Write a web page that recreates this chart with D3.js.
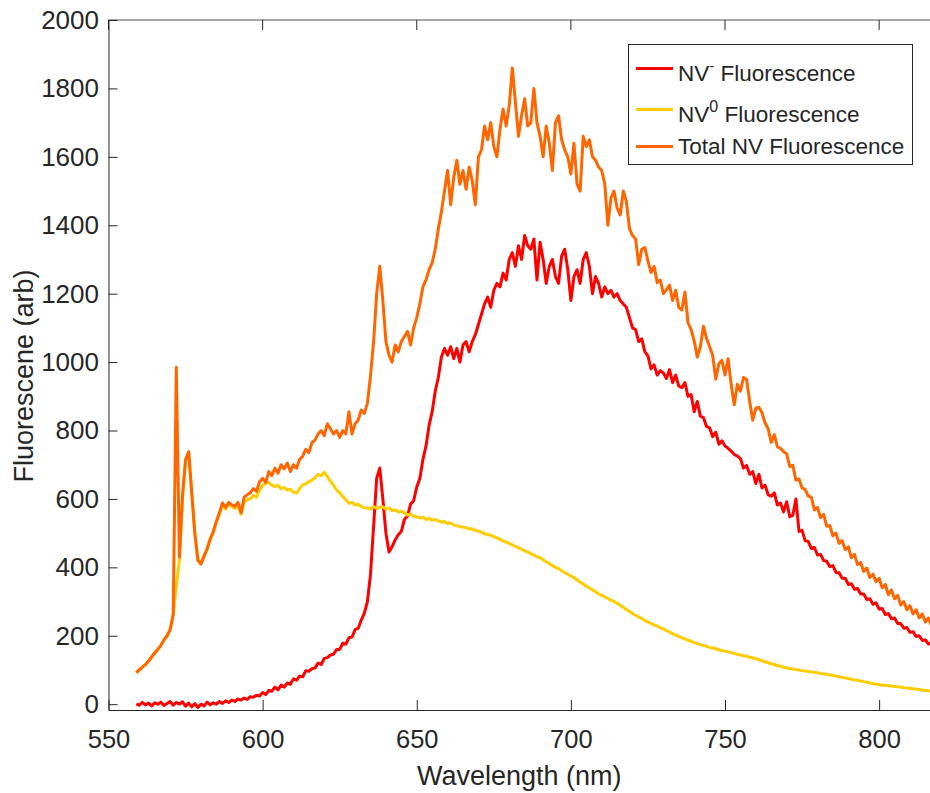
<!DOCTYPE html>
<html>
<head>
<meta charset="utf-8">
<script src="https://cdn.jsdelivr.net/npm/d3@7"></script>
<style>
  html, body { margin: 0; padding: 0; background: #fff; }
  svg text { font-family: "Liberation Sans", Arial, Helvetica, sans-serif; fill: #262626; }
</style>
</head>
<body>
<svg id="chart" width="930" height="793"></svg>
<script>
// ---- Data ----
const wavelength = [
559,560,561,562,563,564,565,566,567,568,
569,570,571,572,573,574,575,576,577,578,
579,580,581,582,583,584,585,586,587,588,
589,590,591,592,593,594,595,596,597,598,
599,600,601,602,603,604,605,606,607,608,
609,610,611,612,613,614,615,616,617,618,
619,620,621,622,623,624,625,626,627,628,
629,630,631,632,633,634,635,636,637,638,
639,640,641,642,643,644,645,646,647,648,
649,650,651,652,653,654,655,656,657,658,
659,660,661,662,663,664,665,666,667,668,
669,670,671,672,673,674,675,676,677,678,
679,680,681,682,683,684,685,686,687,688,
689,690,691,692,693,694,695,696,697,698,
699,700,701,702,703,704,705,706,707,708,
709,710,711,712,713,714,715,716,717,718,
719,720,721,722,723,724,725,726,727,728,
729,730,731,732,733,734,735,736,737,738,
739,740,741,742,743,744,745,746,747,748,
749,750,751,752,753,754,755,756,757,758,
759,760,761,762,763,764,765,766,767,768,
769,770,771,772,773,774,775,776,777,778,
779,780,781,782,783,784,785,786,787,788,
789,790,791,792,793,794,795,796,797,798,
799,800,801,802,803,804,805,806,807,808,
809,810,811,812,813,814,815,816,817
];

const nvMinus = [
0,-3,5,-2,3,-5,4,0,6,-4,
2,8,-3,5,0,7,-6,3,-8,2,
-10,0,-5,6,-2,4,0,8,2,10,
5,12,8,15,12,18,14,22,20,26,
24,34,28,40,38,50,42,56,50,62,
58,74,70,82,80,98,96,104,106,120,
116,134,136,144,146,160,160,178,176,194,
196,218,222,246,266,300,380,520,660,690,
600,500,445,460,480,495,505,540,550,585,
595,635,660,715,755,815,855,915,955,1015,
1040,1020,1045,1010,1040,1000,1050,1060,1030,1060,
1080,1110,1140,1170,1190,1160,1210,1230,1220,1260,
1240,1300,1320,1280,1340,1300,1370,1340,1330,1360,
1240,1350,1300,1230,1280,1300,1250,1230,1310,1330,
1270,1180,1250,1270,1230,1300,1320,1280,1200,1250,
1230,1190,1220,1200,1210,1190,1200,1180,1170,1160,
1130,1100,1095,1060,1068,1030,1018,980,992,962,
975,968,952,978,940,962,930,925,940,900,
905,855,885,842,838,812,808,782,795,760,
770,755,748,740,730,725,718,690,698,672,
680,645,672,632,640,612,608,618,582,588,
562,592,548,552,600,505,508,478,476,455,
458,436,438,420,418,402,405,385,384,368,
368,350,352,336,338,322,322,306,308,292,
296,278,280,262,265,250,252,236,236,222,
224,210,212,198,200,186,188,176,178
];

const nvZero = [
92,100,108,116,126,138,150,160,172,188,
200,218,262,345,420,600,710,735,615,500,
425,410,435,452,485,500,532,555,585,570,
585,578,572,582,555,590,598,600,610,605,
625,640,646,648,640,636,640,630,634,626,
628,620,617,630,641,645,650,655,662,672,
668,678,665,652,640,626,618,607,598,587,
590,582,585,578,574,573,570,578,572,576,
577,570,574,566,568,562,564,560,553,556,
549,548,544,547,540,543,538,540,536,532,
534,528,530,524,522,519,518,516,512,513,
508,506,503,498,496,494,490,486,482,477,
474,470,466,461,457,453,448,445,440,436,
431,428,422,416,411,405,400,396,390,385,
380,375,370,363,357,351,345,340,334,329,
323,318,314,309,304,300,295,289,283,277,
271,265,260,255,250,245,240,236,232,228,
224,220,215,211,206,202,198,194,191,187,
184,180,177,174,172,169,166,164,162,159,
157,155,153,151,148,146,144,142,140,137,
135,133,130,127,124,121,118,116,113,111,
108,106,104,103,101,100,98,97,96,94,
93,92,90,89,87,86,84,82,80,78,
77,75,73,71,70,68,66,64,62,60,
59,57,56,55,54,53,52,51,50,48,
47,46,45,44,43,41,40,39,38
];

const totalNV = [
92,100,108,116,126,138,150,160,172,188,
200,218,262,985,430,610,715,738,620,500,
420,410,432,455,482,505,535,560,588,575,
590,583,578,590,560,605,612,618,630,622,
650,660,648,680,668,690,675,700,688,705,
680,700,690,715,725,745,735,765,772,790,
800,785,820,805,790,800,780,800,790,855,
790,820,830,860,850,880,960,1060,1200,1280,
1180,1060,1020,1000,1050,1030,1060,1075,1090,1050,
1100,1130,1170,1220,1240,1270,1290,1330,1390,1440,
1500,1560,1460,1540,1590,1520,1560,1505,1570,1530,
1460,1600,1620,1690,1650,1700,1630,1600,1680,1740,
1690,1750,1860,1760,1660,1720,1770,1690,1700,1800,
1700,1660,1600,1690,1640,1560,1700,1720,1650,1620,
1600,1550,1640,1520,1500,1660,1630,1650,1600,1590,
1570,1560,1520,1400,1480,1500,1450,1430,1500,1470,
1390,1370,1360,1285,1330,1335,1295,1262,1280,1232,
1240,1200,1212,1225,1180,1210,1160,1152,1205,1115,
1095,1062,1015,1045,1105,1070,1045,1020,950,995,
1005,962,1010,935,875,935,915,955,950,885,
830,865,868,852,822,805,765,788,752,748,
738,732,695,698,655,658,632,628,608,605,
568,575,545,555,520,522,492,500,470,478,
452,460,428,438,408,414,388,398,370,380,
358,368,340,350,320,334,308,318,290,300,
276,288,264,276,252,264,240,252,228
];

const xTicks = [550, 600, 650, 700, 750, 800];
const yTicks = [0, 200, 400, 600, 800, 1000, 1200, 1400, 1600, 1800, 2000];
const seriesNames = ["NV", "NV", "Total NV Fluorescence"];
const seriesSup = ["-", "0", ""];
const seriesColors = ["#ff0000", "#ffcc00", "#ff6600"];

// ---- Layout ----
(function draw() {
const svg = d3.select("#chart");
const pL = 108.5, pR = 930, pT = 20, pB = 710;
const x = d3.scaleLinear().domain([550, 816.5]).range([pL, pR]);
const y = d3.scaleLinear().domain([-17, 2000]).range([pB, pT]);

svg.append("defs").append("clipPath").attr("id", "plotclip")
  .append("rect").attr("x", pL).attr("y", pT).attr("width", pR - pL).attr("height", pB - pT);

// top box line
svg.append("line").attr("x1", pL).attr("x2", pR).attr("y1", pT).attr("y2", pT)
  .attr("stroke", "#8a8a8a").attr("stroke-width", 1.5);

// top ticks (mirrored)
svg.append("g").selectAll("line").data(xTicks).join("line")
  .attr("x1", d => x(d)).attr("x2", d => x(d)).attr("y1", pT).attr("y2", pT + 10)
  .attr("stroke", "#262626").attr("stroke-width", 1);

// x axis
const xAxis = svg.append("g").attr("transform", `translate(0,${pB})`)
  .call(d3.axisBottom(x).tickValues(xTicks).tickFormat(d3.format("d"))
    .tickSizeInner(-10).tickSizeOuter(0).tickPadding(20));
xAxis.select(".domain").attr("stroke", "#262626");
xAxis.selectAll(".tick line").attr("stroke", "#262626");
xAxis.selectAll("text").attr("font-size", "25.5px").attr("fill", "#262626")
  .style("font-family", '"Liberation Sans", Arial, sans-serif');

// y axis
const yAxis = svg.append("g").attr("transform", `translate(${pL},0)`)
  .call(d3.axisLeft(y).tickValues(yTicks).tickFormat(d3.format("d"))
    .tickSizeInner(-9).tickSizeOuter(0).tickPadding(9.5));
yAxis.select(".domain").attr("stroke", "#262626");
yAxis.selectAll(".tick line").attr("stroke", "#262626");
yAxis.selectAll("text").attr("font-size", "26px").attr("fill", "#262626")
  .style("font-family", '"Liberation Sans", Arial, sans-serif');

// axis titles
svg.append("text").attr("x", (pL + pR) / 2).attr("y", 785)
  .attr("text-anchor", "middle").attr("font-size", "27px").text("Wavelength (nm)");
svg.append("text").attr("transform", "translate(33,376) rotate(-90)")
  .attr("text-anchor", "middle").attr("font-size", "27px").text("Fluorescene (arb)");

// lines
const line = d3.line().x((d, i) => x(wavelength[i])).y(d => y(d));
const plot = svg.append("g").attr("clip-path", "url(#plotclip)");
[nvMinus, nvZero, totalNV].forEach((s, k) => {
  plot.append("path").datum(s)
    .attr("d", line)
    .attr("fill", "none")
    .attr("stroke", seriesColors[k])
    .attr("stroke-width", 3)
    .attr("stroke-linejoin", "round");
});

// legend
const lg = svg.append("g");
lg.append("rect").attr("x", 628.5).attr("y", 44.5).attr("width", 284).attr("height", 120)
  .attr("fill", "#fff").attr("stroke", "#262626").attr("stroke-width", 1);
const rowLineY = [68.5, 109.5, 146.5];
const rowTextY = [80.5, 122, 153.5];
seriesColors.forEach((c, k) => {
  lg.append("line").attr("x1", 636).attr("x2", 673).attr("y1", rowLineY[k]).attr("y2", rowLineY[k])
    .attr("stroke", c).attr("stroke-width", 2.8);
  const t = lg.append("text").attr("x", 678).attr("y", rowTextY[k]).attr("font-size", "22.5px");
  if (seriesSup[k]) {
    t.append("tspan").text(seriesNames[k]);
    t.append("tspan").attr("dy", -10).attr("font-size", seriesSup[k] === "-" ? "15px" : "16px").text(seriesSup[k]);
    t.append("tspan").attr("dy", 10).text(" Fluorescence");
  } else {
    t.text(seriesNames[k]);
  }
});
})();
</script>
</body>
</html>
